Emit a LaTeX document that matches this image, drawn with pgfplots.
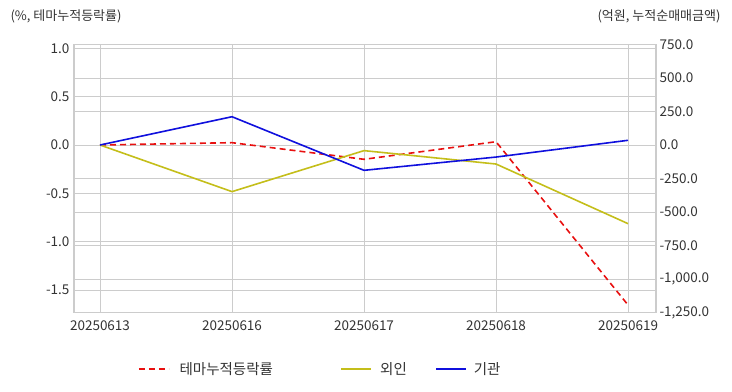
\documentclass[border=0pt]{standalone}
\usepackage{pgfplots}
\pgfplotsset{compat=1.18}
\usepackage{fontspec}
\setmainfont{Noto Sans CJK KR}
\definecolor{gridc}{HTML}{CCCCCC}
\definecolor{txt}{HTML}{333333}
\definecolor{cred}{HTML}{E81010}
\definecolor{cyel}{HTML}{C4BE1A}
\definecolor{cblue}{HTML}{1010DD}
\pgfplotsset{
  base/.style={
    set layers,
    at={(74bp,79.5bp)}, anchor=south west,
    width=582bp, height=268bp, scale only axis,
    xmin=-0.197, xmax=4.212,
    tick style={draw=none},
    ticklabel style={font=\fontsize{13.5bp}{15bp}\selectfont, text=txt},
    /pgf/number format/assume math mode=true,
    major grid style={gridc, line width=0.8bp},
    axis line style={gridc, line width=1.2bp},
  }
}
\begin{document}
\begin{tikzpicture}
\begin{axis}[base,
  ymin=-1.7325, ymax=1.0395,
  xtick={0,1,2,3,4},
  xticklabels={20250613,20250616,20250617,20250618,20250619},
  ytick={-1.5,-1.0,-0.5,0,0.5,1.0},
  yticklabel style={xshift=-1bp, /pgf/number format/.cd, fixed, fixed zerofill, precision=1},
  grid=major,
  xticklabel style={yshift=-5bp},
]
\addplot[cred, line width=1.6bp, dash pattern=on 6bp off 4bp] coordinates {
(0,0) (1,0.024) (2,-0.148) (3,0.034) (4,-1.655)};
\end{axis}
\begin{axis}[base,
  ymin=-1250, ymax=750,
  ytick={-1250,-1000,-750,-500,-250,0,250,500,750},
  yticklabel style={/pgf/number format/.cd, fixed, fixed zerofill, precision=1, 1000 sep={,}},
  axis x line=none, axis y line*=right,
  ymajorgrids,
  legend style={at={(0.11,-0.211)}, anchor=west, draw=none, fill=none,
    inner sep=0pt, outer sep=0pt, column sep=0pt,
    nodes={inner sep=0pt, font=\fontsize{14.5bp}{16bp}\selectfont, text=txt}},
  legend columns=3,
  legend image code/.code={\draw[#1] (0bp,0bp) -- (30bp,0bp);},
]
\addlegendimage{cred, line width=1.6bp, dash pattern=on 6bp off 4bp}
\addlegendentry{\makebox[171bp][l]{\hspace{10bp}테마누적등락률}}
\addplot[cyel, line width=1.6bp] coordinates {
(0,0) (1,-348) (2,-42) (3,-142) (4,-587)};
\addlegendentry{\makebox[63bp][l]{\hspace{8bp}외인}}
\addplot[cblue, line width=1.6bp] coordinates {
(0,0) (1,211) (2,-189) (3,-90) (4,35)};
\addlegendentry{\makebox[40bp][l]{\hspace{7bp}기관}}
\end{axis}
\node[anchor=west, font=\fontsize{13bp}{15bp}\selectfont, text=txt] at (7bp,376bp) {(\%, 테마누적등락률)};
\node[anchor=east, font=\fontsize{13bp}{15bp}\selectfont, text=txt] at (724bp,376bp) {(억원, 누적순매매금액)};
\path (0,0) rectangle (732bp,392bp);
\end{tikzpicture}
\end{document}
